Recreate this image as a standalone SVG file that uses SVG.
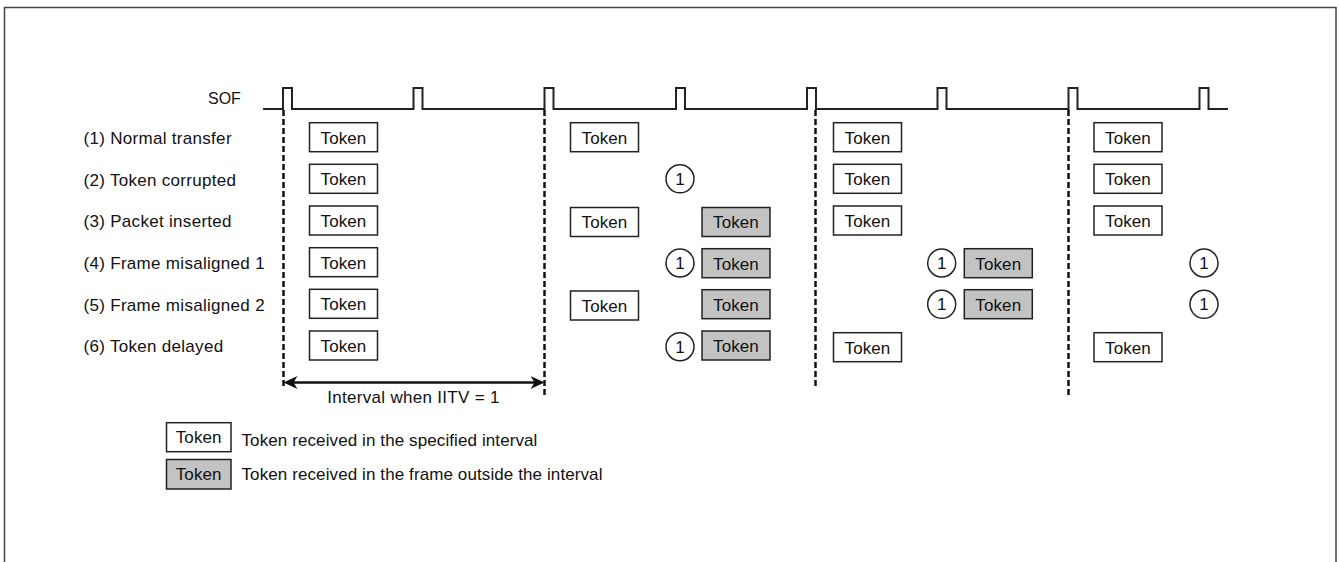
<svg xmlns="http://www.w3.org/2000/svg" width="1339" height="562" viewBox="0 0 1339 562">
<defs>
<style>
text{font-family:"Liberation Sans",Arial,sans-serif;font-size:17px;fill:#111}
.lbl{letter-spacing:0.3px}
.leg{letter-spacing:0.1px}
.tk{text-anchor:middle;letter-spacing:0.1px}
.bw{fill:#fff;stroke:#222;stroke-width:1.5}
.bg{fill:#c3c3c3;stroke:#222;stroke-width:1.5}
.cir{fill:#fff;stroke:#222;stroke-width:1.5}
.dash{stroke:#111;stroke-width:2.5;stroke-dasharray:6 3;fill:none}
.wave{stroke:#222;stroke-width:2;fill:none}
</style>
<marker id="ah" viewBox="0 0 14 14" refX="9" refY="7" markerWidth="14" markerHeight="14" markerUnits="userSpaceOnUse" orient="auto-start-reverse">
<path d="M0,0.5 L14,7 L0,13.5 L4,7 Z" fill="#111"/>
</marker>
</defs>
<rect x="0" y="0" width="1339" height="562" fill="#fff"/>
<rect x="4.5" y="7.5" width="1331.5" height="620" fill="none" stroke="#444" stroke-width="1.5"/>

<g id="sof">
<text x="208" y="104" style="font-size:16px">SOF</text>
<path class="wave" d="M263 109 H283 V88 H292 V109 H413.5 V88 H422.5 V109 H544.5 V88 H553.5 V109 H676 V88 H685 V109 H807 V88 H816 V109 H937.5 V88 H946.5 V109 H1068.5 V88 H1077.5 V109 H1199.5 V88 H1208.5 V109 H1228"/>
</g>

<g id="labels">
<text class="lbl" x="83.5" y="144">(1) Normal transfer</text>
<text class="lbl" x="83.5" y="185.7">(2) Token corrupted</text>
<text class="lbl" x="83.5" y="227.4">(3) Packet inserted</text>
<text class="lbl" x="83.5" y="269">(4) Frame misaligned 1</text>
<text class="lbl" x="83.5" y="310.7">(5) Frame misaligned 2</text>
<text class="lbl" x="83.5" y="352.4">(6) Token delayed</text>
</g>

<g id="connectors">
<line class="dash" x1="283.5" y1="110" x2="283.5" y2="389"/>
<line class="dash" x1="544.5" y1="110" x2="544.5" y2="396"/>
<line class="dash" x1="815.5" y1="110" x2="815.5" y2="389"/>
<line class="dash" x1="1068.5" y1="110" x2="1068.5" y2="396"/>
<line x1="288.5" y1="382.5" x2="539.5" y2="382.5" stroke="#111" stroke-width="2.5" marker-start="url(#ah)" marker-end="url(#ah)"/>
<text x="413.5" y="403.3" text-anchor="middle" class="lbl">Interval when IITV = 1</text>
</g>

<g id="row1">
<rect class="bw" x="309.5" y="122.7" width="68" height="29"/><text class="tk" x="343.5" y="143.5">Token</text>
<rect class="bw" x="570.5" y="122.7" width="68" height="29"/><text class="tk" x="604.5" y="143.5">Token</text>
<rect class="bw" x="833.5" y="122.7" width="68" height="29"/><text class="tk" x="867.5" y="143.5">Token</text>
<rect class="bw" x="1094" y="122.7" width="68" height="29"/><text class="tk" x="1128" y="143.5">Token</text>
</g>

<g id="row2">
<rect class="bw" x="309.5" y="164.3" width="68" height="29"/><text class="tk" x="343.5" y="185.1">Token</text>
<circle class="cir" cx="680" cy="178.8" r="14"/><text class="tk" x="680" y="184.8">1</text>
<rect class="bw" x="833.5" y="164.3" width="68" height="29"/><text class="tk" x="867.5" y="185.1">Token</text>
<rect class="bw" x="1094" y="164.3" width="68" height="29"/><text class="tk" x="1128" y="185.1">Token</text>
</g>

<g id="row3">
<rect class="bw" x="309.5" y="206" width="68" height="29"/><text class="tk" x="343.5" y="226.8">Token</text>
<rect class="bw" x="570.5" y="207.5" width="68" height="29"/><text class="tk" x="604.5" y="228.3">Token</text>
<rect class="bg" x="702" y="207.5" width="68" height="29"/><text class="tk" x="736" y="228.3">Token</text>
<rect class="bw" x="833.5" y="206" width="68" height="29"/><text class="tk" x="867.5" y="226.8">Token</text>
<rect class="bw" x="1094" y="206" width="68" height="29"/><text class="tk" x="1128" y="226.8">Token</text>
</g>

<g id="row4">
<rect class="bw" x="309.5" y="247.7" width="68" height="29"/><text class="tk" x="343.5" y="268.5">Token</text>
<circle class="cir" cx="680" cy="263" r="14"/><text class="tk" x="680" y="269">1</text>
<rect class="bg" x="702" y="248.7" width="68" height="29"/><text class="tk" x="736" y="269.5">Token</text>
<circle class="cir" cx="941.7" cy="263" r="14"/><text class="tk" x="941.7" y="269">1</text>
<rect class="bg" x="964.3" y="248.7" width="68" height="29"/><text class="tk" x="998.3" y="269.5">Token</text>
<circle class="cir" cx="1204" cy="263" r="14"/><text class="tk" x="1204" y="269">1</text>
</g>

<g id="row5">
<rect class="bw" x="309.5" y="289.3" width="68" height="29"/><text class="tk" x="343.5" y="310.1">Token</text>
<rect class="bw" x="570.5" y="291" width="68" height="29"/><text class="tk" x="604.5" y="311.8">Token</text>
<rect class="bg" x="702" y="289.7" width="68" height="29"/><text class="tk" x="736" y="310.5">Token</text>
<circle class="cir" cx="941.7" cy="304.3" r="14"/><text class="tk" x="941.7" y="310.3">1</text>
<rect class="bg" x="964.3" y="289.7" width="68" height="29"/><text class="tk" x="998.3" y="310.5">Token</text>
<circle class="cir" cx="1204" cy="304.3" r="14"/><text class="tk" x="1204" y="310.3">1</text>
</g>

<g id="row6">
<rect class="bw" x="309.5" y="331" width="68" height="29"/><text class="tk" x="343.5" y="351.8">Token</text>
<circle class="cir" cx="680" cy="346.7" r="14"/><text class="tk" x="680" y="352.7">1</text>
<rect class="bg" x="702" y="331" width="68" height="29"/><text class="tk" x="736" y="351.8">Token</text>
<rect class="bw" x="833.5" y="332.7" width="68" height="29"/><text class="tk" x="867.5" y="353.5">Token</text>
<rect class="bw" x="1094" y="332.7" width="68" height="29"/><text class="tk" x="1128" y="353.5">Token</text>
</g>

<g id="legend">
<rect class="bw" x="166.5" y="422.7" width="64.5" height="29"/><text class="tk" x="198.7" y="443">Token</text>
<text class="leg" x="241.5" y="446">Token received in the specified interval</text>
<rect class="bg" x="166.5" y="459.5" width="64.5" height="29.5"/><text class="tk" x="198.7" y="479.5">Token</text>
<text class="leg" x="241.5" y="479.5">Token received in the frame outside the interval</text>
</g>
</svg>
